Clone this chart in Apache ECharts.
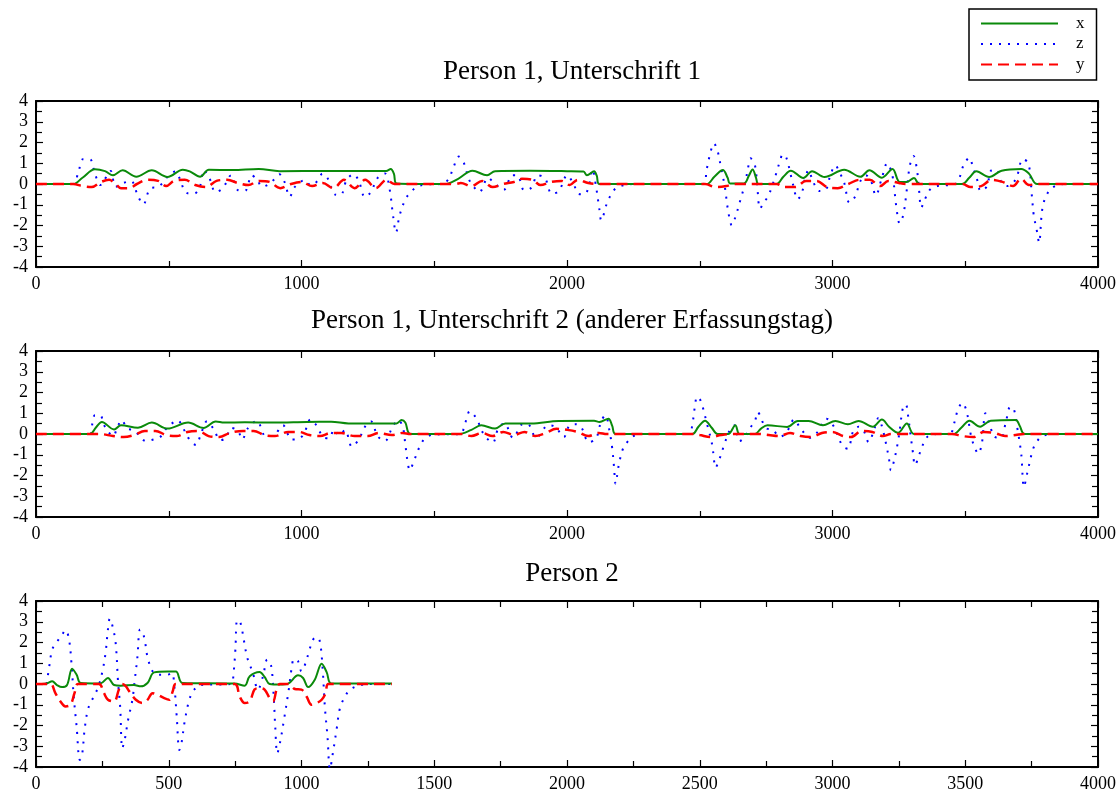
<!DOCTYPE html>
<html><head><meta charset="utf-8">
<script src="https://cdn.jsdelivr.net/npm/echarts@6/dist/echarts.min.js"></script>
<style>html,body{margin:0;padding:0;background:#fff}#c{width:1120px;height:794px}</style>
</head><body><div id="c"></div>
<script>
const titles = ['Person 1, Unterschrift 1', 'Person 1, Unterschrift 2 (anderer Erfassungstag)', 'Person 2'];
const seriesNames = ['x', 'z', 'y'];
const xMaxes = [4000, 4000, 4000];
const xIntervals = [1000, 1000, 500];

// Panel 1 — x (green)
const p1X = [[0,0],[140,0],[175,0.3],[222,0.71],[260,0.62],[290,0.42],[326,0.66],[378,0.35],[436,0.66],[495,0.34],[553,0.69],[579,0.61],[618,0.35],[651,0.69],[740,0.67],[839,0.72],[917,0.62],[1100,0.63],[1319,0.63],[1336,0.72],[1348,0.5],[1358,0.03],[1540,0],[1590,0.25],[1644,0.64],[1699,0.42],[1729,0.62],[1860,0.64],[2000,0.62],[2062,0.6],[2075,0.42],[2102,0.61],[2112,0.4],[2122,0],[2526,0],[2555,0.35],[2587,0.67],[2605,0.3],[2614,0.03],[2667,0.03],[2685,0.4],[2699,0.7],[2712,0.3],[2721,0],[2789,0],[2815,0.35],[2843,0.64],[2890,0.29],[2923,0.62],[2970,0.34],[3044,0.69],[3105,0.35],[3139,0.66],[3186,0.3],[3226,0.72],[3253,0.1],[3280,0.1],[3307,0.29],[3327,0],[3489,0],[3515,0.3],[3542,0.61],[3590,0.34],[3637,0.64],[3711,0.72],[3740,0.5],[3771,0],[4000,0]];
// Panel 1 — z (blue)
const p1Z = [[0,0],[138,0],[160,0.6],[177,1.19],[203,1.19],[222,0.5],[242,-0.05],[281,0.63],[300,-0.13],[332,0.06],[358,0.14],[384,-0.58],[404,-0.98],[430,-0.22],[462,-0.13],[501,0.42],[525,0.6],[540,0.3],[566,-0.42],[595,-0.47],[618,-0.1],[631,0.66],[651,0.35],[677,-0.39],[703,-0.21],[735,0.42],[761,-0.3],[787,-0.33],[813,0.42],[832,0.22],[852,-0.13],[878,0],[897,0.22],[917,0.47],[936,0.1],[956,-0.61],[975,-0.14],[1014,0.19],[1034,-0.06],[1060,0.14],[1079,0.5],[1099,0.26],[1125,-0.5],[1147,-0.53],[1170,0.19],[1196,0.47],[1216,0.14],[1239,-0.63],[1261,-0.39],[1287,0.3],[1314,0.51],[1332,-0.26],[1345,-1.54],[1356,-2.34],[1369,-1.54],[1391,-0.74],[1410,-0.42],[1436,-0.13],[1475,-0.02],[1527,0],[1553,0.22],[1572,0.79],[1592,1.32],[1612,1.0],[1631,0.22],[1651,-0.18],[1670,-0.39],[1703,0.3],[1722,0.1],[1761,-0.29],[1794,0.42],[1813,0.42],[1839,-0.3],[1865,-0.18],[1890,0.42],[1917,0.29],[1943,-0.47],[1969,-0.34],[2001,0.42],[2028,-0.1],[2042,-0.47],[2065,-0.5],[2082,-0.13],[2096,0.7],[2109,-0.1],[2122,-1.22],[2129,-1.75],[2149,-0.98],[2163,-0.58],[2183,-0.22],[2217,-0.05],[2264,0],[2513,0],[2526,0.7],[2540,1.5],[2553,1.96],[2567,1.6],[2580,0.79],[2594,-0.1],[2607,-1.3],[2621,-1.99],[2634,-1.6],[2652,-0.82],[2670,0],[2681,0.7],[2691,1.24],[2708,0.9],[2718,-0.34],[2727,-1.19],[2741,-0.9],[2759,-0.55],[2775,0],[2789,0.55],[2802,1.1],[2813,1.43],[2826,1.27],[2843,0.42],[2856,-0.26],[2867,-0.74],[2883,-0.5],[2896,0.22],[2910,0.67],[2923,0.26],[2950,-0.34],[2974,-0.29],[2991,0.38],[3011,0.9],[3024,0.63],[3044,0.06],[3064,-0.9],[3085,-0.61],[3105,0.14],[3125,0.42],[3145,0.14],[3163,-0.55],[3186,0.3],[3206,1.0],[3226,0.38],[3240,-1.06],[3253,-1.9],[3267,-1.46],[3280,-0.26],[3291,0.87],[3305,1.35],[3318,0.7],[3327,-0.42],[3334,-1.14],[3348,-0.74],[3368,-0.26],[3395,-0.1],[3462,0],[3478,0.3],[3495,0.95],[3516,1.27],[3529,0.79],[3542,0.35],[3559,-0.34],[3582,-0.1],[3596,0.63],[3616,0.7],[3637,0.06],[3657,-0.1],[3690,0.22],[3717,1.19],[3738,1.0],[3751,-0.58],[3758,-1.5],[3771,-2.34],[3778,-2.83],[3791,-1.14],[3811,-0.42],[3838,-0.1],[3878,0],[4000,0]];
// Panel 1 — y (red)
const p1Y = [[0,0],[140,0],[175,-0.1],[210,-0.15],[245,0.1],[275,0.2],[300,0],[320,-0.2],[350,-0.2],[380,0],[420,0.2],[460,0.15],[490,-0.1],[520,0.15],[560,0.2],[600,-0.05],[640,-0.15],[680,0.15],[720,0.2],[760,0.05],[800,-0.05],[840,0.15],[880,0.1],[920,-0.2],[960,0],[1000,0.1],[1040,-0.1],[1080,0.05],[1120,-0.2],[1160,0.2],[1200,-0.2],[1240,0.2],[1280,-0.2],[1320,0.2],[1350,0],[1580,0],[1600,0.05],[1640,-0.1],[1680,0.15],[1720,-0.15],[1760,0],[1800,0.1],[1830,0.25],[1870,0.2],[1900,-0.05],[1940,0.1],[1980,0.15],[2010,-0.05],[2040,0.2],[2080,0.05],[2110,0],[2520,0],[2560,-0.15],[2600,-0.1],[2630,0],[2790,0],[2820,-0.15],[2860,-0.15],[2900,0.15],[2940,0.15],[2980,-0.15],[3020,-0.2],[3060,0],[3100,0.2],[3140,0.2],[3180,-0.1],[3210,0.15],[3250,0.05],[3280,0],[3490,0],[3520,-0.15],[3560,-0.1],[3600,0.2],[3640,0.1],[3680,-0.1],[3710,0.25],[3740,-0.05],[3770,0],[4000,0]];

// Panel 2 — x (green)
const p2X = [[0,0],[203,0],[225,0.3],[248,0.58],[294,0.22],[320,0.42],[384,0.3],[436,0.55],[495,0.26],[573,0.55],[631,0.29],[677,0.6],[709,0.55],[787,0.57],[891,0.55],[1021,0.58],[1112,0.59],[1177,0.51],[1281,0.51],[1358,0.51],[1377,0.67],[1391,0.55],[1410,0],[1592,0],[1640,0.2],[1677,0.42],[1729,0.26],[1768,0.51],[1865,0.51],[1969,0.63],[2102,0.64],[2122,0.58],[2156,0.74],[2170,0.4],[2183,0],[2472,0],[2495,0.35],[2520,0.64],[2545,0.3],[2567,0],[2607,0],[2634,0.42],[2650,0],[2708,0],[2730,0.25],[2755,0.42],[2829,0.34],[2869,0.63],[2910,0.63],[2964,0.42],[3011,0.63],[3058,0.47],[3098,0.63],[3152,0.35],[3186,0.7],[3213,0.35],[3247,0.06],[3280,0.51],[3307,0],[3455,0],[3485,0.3],[3516,0.64],[3556,0.35],[3596,0.64],[3690,0.67],[3705,0.4],[3724,0],[4000,0]];
// Panel 2 — z (blue)
const p2Z = [[0,0],[203,0],[213,0.55],[222,0.9],[242,0.9],[255,0.47],[270,0.14],[290,-0.1],[306,0.3],[322,0.67],[345,0.26],[367,0.19],[391,-0.1],[413,-0.34],[436,-0.29],[468,-0.14],[488,0.22],[508,0.47],[534,0.66],[553,0.3],[582,-0.34],[603,-0.53],[618,-0.13],[644,0.61],[670,0.22],[694,-0.3],[716,-0.18],[735,0.3],[761,0.14],[777,-0.26],[797,0.26],[832,0.63],[865,-0.1],[891,-0.1],[930,0.42],[962,-0.26],[982,-0.26],[1008,-0.02],[1034,0.7],[1053,0.47],[1086,-0.18],[1105,-0.21],[1122,0.22],[1142,-0.06],[1164,0.19],[1190,-0.61],[1216,-0.26],[1239,0.35],[1261,0.61],[1287,-0.1],[1314,-0.34],[1343,0.35],[1365,0.67],[1382,0.3],[1391,-0.5],[1400,-1.38],[1408,-1.75],[1421,-1.38],[1447,-0.55],[1465,-0.22],[1495,-0.03],[1599,0],[1612,0.3],[1621,0.7],[1634,1.1],[1651,0.9],[1668,0.51],[1683,0.06],[1699,-0.22],[1720,-0.42],[1742,0.3],[1764,0.51],[1797,-0.19],[1833,0.47],[1852,0.47],[1884,-0.18],[1930,0.42],[1956,0.35],[1988,-0.15],[2008,0.38],[2035,0.47],[2055,0.3],[2082,-0.39],[2109,-0.22],[2129,0.63],[2145,0.9],[2159,0.22],[2170,-0.66],[2177,-1.57],[2183,-2.4],[2194,-1.57],[2210,-0.74],[2230,-0.34],[2250,-0.1],[2291,0],[2459,0],[2472,0.47],[2482,1.35],[2490,1.8],[2502,1.64],[2513,1.22],[2526,0.55],[2544,-0.34],[2550,-0.82],[2560,-1.62],[2573,-1.25],[2594,-0.45],[2614,0.22],[2630,0.42],[2650,-0.34],[2668,-0.18],[2688,0.26],[2708,0.63],[2718,1.06],[2727,0.9],[2748,0.3],[2775,0.19],[2802,-0.13],[2826,0.06],[2856,0.7],[2880,0.26],[2917,-0.18],[2944,0.1],[2977,0.74],[3004,0.38],[3038,-0.58],[3058,-0.71],[3078,0.14],[3098,0.35],[3118,0.14],[3136,-0.39],[3159,0.3],[3173,0.77],[3186,0.38],[3203,-0.55],[3213,-1.22],[3220,-1.75],[3233,-1.22],[3247,-0.34],[3256,0.45],[3264,1.19],[3276,1.43],[3284,0.94],[3294,-0.05],[3303,-0.9],[3311,-1.5],[3327,-0.98],[3341,-0.5],[3361,-0.1],[3408,0],[3442,0],[3459,0.55],[3472,1.16],[3489,1.5],[3505,1.1],[3522,-0.1],[3536,-0.66],[3549,-0.95],[3563,-0.42],[3576,1.0],[3590,0.55],[3610,-0.13],[3634,-0.19],[3653,0.58],[3670,1.32],[3684,1.16],[3697,0.22],[3711,-0.98],[3721,-2.55],[3734,-1.86],[3755,-0.74],[3771,-0.34],[3791,-0.1],[3838,0],[4000,0]];
// Panel 2 — y (red)
const p2Y = [[0,0],[240,0],[290,-0.1],[330,-0.15],[370,-0.05],[410,0.15],[450,0.15],[490,-0.05],[530,-0.1],[570,0.1],[610,0.15],[650,-0.1],[690,-0.15],[730,0.05],[780,0.15],[820,0.15],[860,-0.05],[900,-0.1],[950,0.1],[990,0.1],[1030,-0.05],[1070,-0.1],[1110,0.05],[1150,0.05],[1200,-0.1],[1250,-0.1],[1290,0.05],[1340,-0.05],[1380,0.05],[1410,0],[1600,0],[1640,-0.1],[1680,0.05],[1720,-0.1],[1760,0.1],[1800,-0.05],[1840,0.1],[1880,-0.1],[1920,0.05],[1960,0.25],[2000,0.2],[2040,0.1],[2080,-0.1],[2120,0.05],[2150,0],[2470,0],[2500,-0.05],[2540,-0.15],[2580,-0.05],[2620,0],[2720,0],[2760,-0.05],[2800,-0.1],[2840,0.05],[2880,-0.1],[2920,-0.15],[2960,0.05],[3000,0.1],[3040,-0.1],[3070,-0.15],[3110,0.15],[3150,0.1],[3190,-0.1],[3220,0],[3450,0],[3490,-0.1],[3530,-0.15],[3570,0.1],[3610,0.05],[3650,-0.1],[3690,-0.05],[3720,0],[4000,0]];

// Panel 3 — x (green)
const p3X = [[20,0],[40,0.02],[61,0.13],[79,-0.05],[98,-0.15],[117,-0.05],[136,0.74],[153,0.45],[168,0.05],[243,0.03],[271,0.29],[294,-0.05],[319,-0.08],[369,-0.05],[395,-0.11],[420,0.05],[445,0.56],[496,0.6],[527,0.6],[552,0.05],[748,0.02],[786,-0.08],[805,0.37],[842,0.58],[861,0.34],[880,0],[918,-0.03],[950,0.02],[987,0.42],[1006,0.29],[1025,-0.15],[1050,0.21],[1076,0.98],[1095,0.56],[1113,0.02],[1340,0.02]];
// Panel 3 — z (blue)
const p3Z = [[40,0],[50,0.85],[61,1.66],[76,1.98],[95,2.3],[111,2.6],[124,2.18],[134,0.94],[142,-0.6],[153,-2.05],[165,-3.66],[174,-3.37],[183,-2.2],[195,-1.24],[208,-0.85],[221,-0.52],[235,-0.13],[250,0.6],[262,1.5],[271,2.63],[278,3.15],[288,2.8],[300,1.98],[309,0.1],[317,-1.1],[325,-3.1],[334,-2.7],[347,-1.72],[363,-0.76],[372,0.2],[382,1.3],[392,2.63],[407,2.27],[420,1.3],[439,0.61],[458,0.45],[477,0.45],[496,0.45],[512,0.53],[521,-0.1],[530,-1.56],[540,-3.18],[549,-2.77],[559,-1.88],[578,-0.73],[596,-0.27],[622,-0.05],[735,0],[744,0.53],[751,1.66],[758,3.08],[770,2.95],[783,2.1],[796,1.26],[817,0.53],[836,-0.27],[855,0.37],[871,1.18],[886,0.85],[896,-0.76],[901,-2.05],[909,-3.34],[921,-2.7],[934,-1.72],[952,-0.27],[962,0.69],[972,1.21],[987,1.1],[1000,0.61],[1015,1.0],[1031,1.69],[1044,2.15],[1057,2.27],[1069,2.06],[1079,0.85],[1088,-1.1],[1098,-2.55],[1107,-4.1],[1120,-3.18],[1132,-2.2],[1145,-1.16],[1164,-0.6],[1183,-0.27],[1215,-0.08],[1252,0],[1340,0]];
// Panel 3 — y (red)
const p3Y = [[0,0],[54,0],[73,-0.44],[92,-0.84],[111,-1.08],[130,-1.0],[145,-0.44],[158,0],[237,0],[256,-0.44],[271,-0.76],[294,-0.84],[313,-0.24],[325,0],[338,-0.1],[351,-0.35],[376,-0.76],[401,-0.92],[420,-0.76],[439,-0.44],[458,-0.52],[483,-0.68],[502,-0.76],[515,-0.35],[527,0],[748,0],[767,-0.6],[786,-0.92],[805,-0.84],[823,-0.27],[842,-0.2],[861,-0.27],[880,-0.68],[893,-0.84],[906,-0.27],[918,0],[950,0],[975,-0.24],[1000,-0.27],[1019,-0.6],[1038,-1.0],[1057,-0.92],[1076,-0.76],[1091,-0.44],[1101,0],[1340,0]];

const panelData = [[p1X, p1Z, p1Y], [p2X, p2Z, p2Y], [p3X, p3Z, p3Y]];

const FONT = 'Liberation Serif';
const gridTops = [101, 351, 601];
const gridH = 166;
const titleTops = [53, 302, 555];
const colors = ['#0a8a0a', '#0000ff', '#ff0000'];
const lineTypes = ['solid', [2, 7], [11, 6]];
const lineWidths = [2, 2, 2.5];

const grids = gridTops.map(t => ({ left: 36, right: 22, top: t, height: gridH }));
const axisLine = { show: true, onZero: false, lineStyle: { color: '#000', width: 2 } };
const tick = { show: true, inside: true, length: 7, lineStyle: { color: '#000', width: 1.2 } };
const minor = { show: true, splitNumber: 2, length: 6, lineStyle: { color: '#000', width: 1.2 } };

const xAxes = [], yAxes = [];
for (let pos of ['bottom', 'top']) {
  for (let i = 0; i < 3; i++) {
    xAxes.push({
      type: 'value', gridIndex: i, position: pos, min: 0, max: xMaxes[i], interval: xIntervals[i],
      axisLine, axisTick: tick, minorTick: minor, splitLine: { show: false },
      axisLabel: { show: pos === 'bottom', color: '#000', fontFamily: FONT, fontSize: 18, margin: 8,
        formatter: v => String(v) }
    });
  }
}
for (let pos of ['left', 'right']) {
  for (let i = 0; i < 3; i++) {
    yAxes.push({
      type: 'value', gridIndex: i, position: pos, min: -4, max: 4, interval: 1,
      axisLine, axisTick: tick, minorTick: minor, splitLine: { show: false },
      axisLabel: { show: pos === 'left', color: '#000', fontFamily: FONT, fontSize: 18, margin: 8,
        formatter: v => String(v) }
    });
  }
}

const series = [];
for (let i = 0; i < 3; i++) {
  for (let k = 0; k < 3; k++) {
    series.push({
      name: seriesNames[k], type: 'line', xAxisIndex: i, yAxisIndex: i,
      data: panelData[i][k], showSymbol: false, symbol: 'none', smooth: 0.35,
      clip: true, animation: false, z: k === 0 ? 3 : (k === 1 ? 2 : 4),
      lineStyle: { color: colors[k], width: lineWidths[k], type: lineTypes[k] },
      itemStyle: { color: colors[k] }
    });
  }
}

const chart = echarts.init(document.getElementById('c'), null, { renderer: 'canvas' });
chart.setOption({
  animation: false,
  backgroundColor: '#fff',
  title: titles.map((t, i) => ({
    text: t, left: 567, top: titleTops[i], textAlign: 'center',
    textStyle: { fontFamily: FONT, fontSize: 27, fontWeight: 'normal', color: '#000' }
  })),
  legend: {
    data: seriesNames, orient: 'vertical', left: 969, top: 9,
    padding: [6, 12, 7, 11], itemGap: 3.5, itemWidth: 77, itemHeight: 14,
    borderColor: '#000', borderWidth: 1.5,
    itemStyle: { opacity: 0 },
    textStyle: { fontFamily: FONT, fontSize: 17, lineHeight: 16, color: '#000', padding: [0, 0, 0, 13] }
  },
  grid: grids,
  xAxis: xAxes,
  yAxis: yAxes,
  series
});
</script>
</body></html>
